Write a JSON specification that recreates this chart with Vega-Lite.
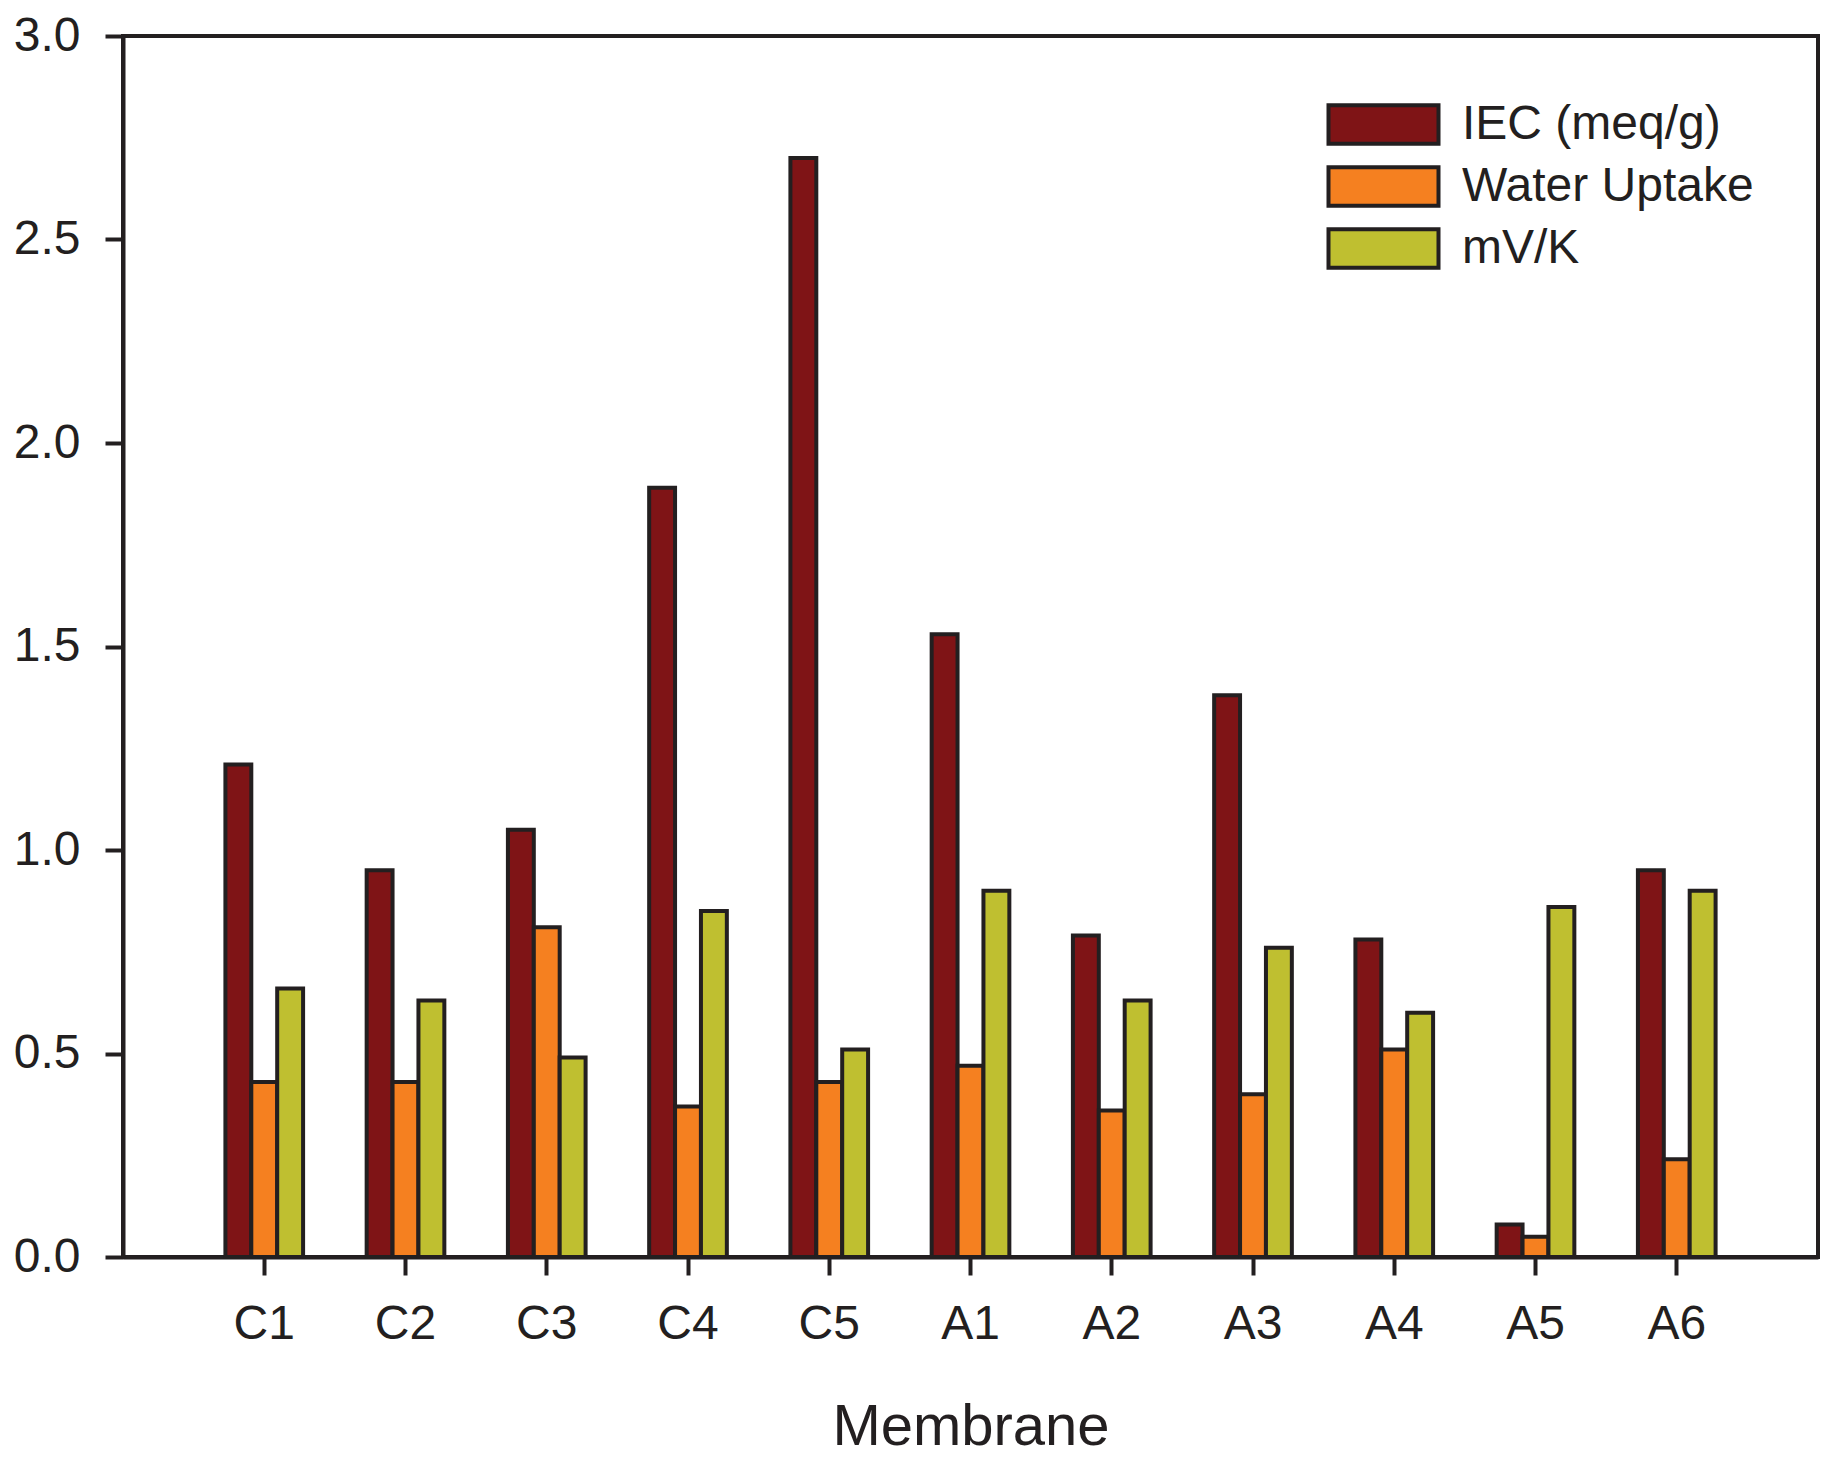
{
  "$schema": "https://vega.github.io/schema/vega-lite/v6.json",
  "width": 1695,
  "height": 1221,
  "autosize": "none",
  "padding": {"left": 123, "top": 36, "right": 24, "bottom": 212},
  "background": "white",
  "config": {
    "font": "Liberation Sans",
    "view": {"stroke": "#231f20", "strokeWidth": 4},
    "axis": {
      "domainColor": "#231f20",
      "domainWidth": 4,
      "tickColor": "#231f20",
      "tickWidth": 4,
      "tickSize": 18,
      "labelColor": "#231f20",
      "labelFontSize": 48,
      "labelPadding": 25,
      "titleColor": "#231f20",
      "titleFontWeight": "normal",
      "grid": false
    }
  },
  "data": {
    "values": [
      {"Membrane": "C1", "Property": "IEC (meq/g)", "value": 1.21},
      {"Membrane": "C1", "Property": "Water Uptake", "value": 0.43},
      {"Membrane": "C1", "Property": "mV/K", "value": 0.66},
      {"Membrane": "C2", "Property": "IEC (meq/g)", "value": 0.95},
      {"Membrane": "C2", "Property": "Water Uptake", "value": 0.43},
      {"Membrane": "C2", "Property": "mV/K", "value": 0.63},
      {"Membrane": "C3", "Property": "IEC (meq/g)", "value": 1.05},
      {"Membrane": "C3", "Property": "Water Uptake", "value": 0.81},
      {"Membrane": "C3", "Property": "mV/K", "value": 0.49},
      {"Membrane": "C4", "Property": "IEC (meq/g)", "value": 1.89},
      {"Membrane": "C4", "Property": "Water Uptake", "value": 0.37},
      {"Membrane": "C4", "Property": "mV/K", "value": 0.85},
      {"Membrane": "C5", "Property": "IEC (meq/g)", "value": 2.70},
      {"Membrane": "C5", "Property": "Water Uptake", "value": 0.43},
      {"Membrane": "C5", "Property": "mV/K", "value": 0.51},
      {"Membrane": "A1", "Property": "IEC (meq/g)", "value": 1.53},
      {"Membrane": "A1", "Property": "Water Uptake", "value": 0.47},
      {"Membrane": "A1", "Property": "mV/K", "value": 0.90},
      {"Membrane": "A2", "Property": "IEC (meq/g)", "value": 0.79},
      {"Membrane": "A2", "Property": "Water Uptake", "value": 0.36},
      {"Membrane": "A2", "Property": "mV/K", "value": 0.63},
      {"Membrane": "A3", "Property": "IEC (meq/g)", "value": 1.38},
      {"Membrane": "A3", "Property": "Water Uptake", "value": 0.40},
      {"Membrane": "A3", "Property": "mV/K", "value": 0.76},
      {"Membrane": "A4", "Property": "IEC (meq/g)", "value": 0.78},
      {"Membrane": "A4", "Property": "Water Uptake", "value": 0.51},
      {"Membrane": "A4", "Property": "mV/K", "value": 0.60},
      {"Membrane": "A5", "Property": "IEC (meq/g)", "value": 0.08},
      {"Membrane": "A5", "Property": "Water Uptake", "value": 0.05},
      {"Membrane": "A5", "Property": "mV/K", "value": 0.86},
      {"Membrane": "A6", "Property": "IEC (meq/g)", "value": 0.95},
      {"Membrane": "A6", "Property": "Water Uptake", "value": 0.24},
      {"Membrane": "A6", "Property": "mV/K", "value": 0.90}
    ]
  },
  "mark": {"type": "bar", "stroke": "#231f20", "strokeWidth": 4},
  "encoding": {
    "x": {
      "field": "Membrane",
      "type": "nominal",
      "sort": ["C1", "C2", "C3", "C4", "C5", "A1", "A2", "A3", "A4", "A5", "A6"],
      "scale": {"paddingInner": 0.45, "paddingOuter": 0.725},
      "axis": {"labelAngle": 0, "title": "Membrane", "titleFontSize": 58, "titlePadding": 50}
    },
    "xOffset": {
      "field": "Property",
      "type": "nominal",
      "sort": ["IEC (meq/g)", "Water Uptake", "mV/K"],
      "scale": {"paddingInner": 0, "paddingOuter": 0}
    },
    "y": {
      "field": "value",
      "type": "quantitative",
      "scale": {"domain": [0, 3], "nice": false},
      "axis": {"values": [0, 0.5, 1, 1.5, 2, 2.5, 3], "format": ".1f", "title": null}
    },
    "color": {
      "field": "Property",
      "type": "nominal",
      "sort": ["IEC (meq/g)", "Water Uptake", "mV/K"],
      "scale": {
        "domain": ["IEC (meq/g)", "Water Uptake", "mV/K"],
        "range": ["#7f1416", "#f58020", "#bfbf30"]
      },
      "legend": {
        "title": null,
        "orient": "none",
        "legendX": 1231,
        "legendY": 59,
        "symbolType": "M-2,-0.7H2V0.7H-2Z",
        "symbolSize": 3025,
        "symbolStrokeColor": "#231f20",
        "symbolStrokeWidth": 4,
        "symbolOpacity": 1,
        "labelFontSize": 48,
        "labelColor": "#231f20",
        "labelLimit": 0,
        "labelOffset": 49,
        "rowPadding": 5
      }
    }
  }
}
